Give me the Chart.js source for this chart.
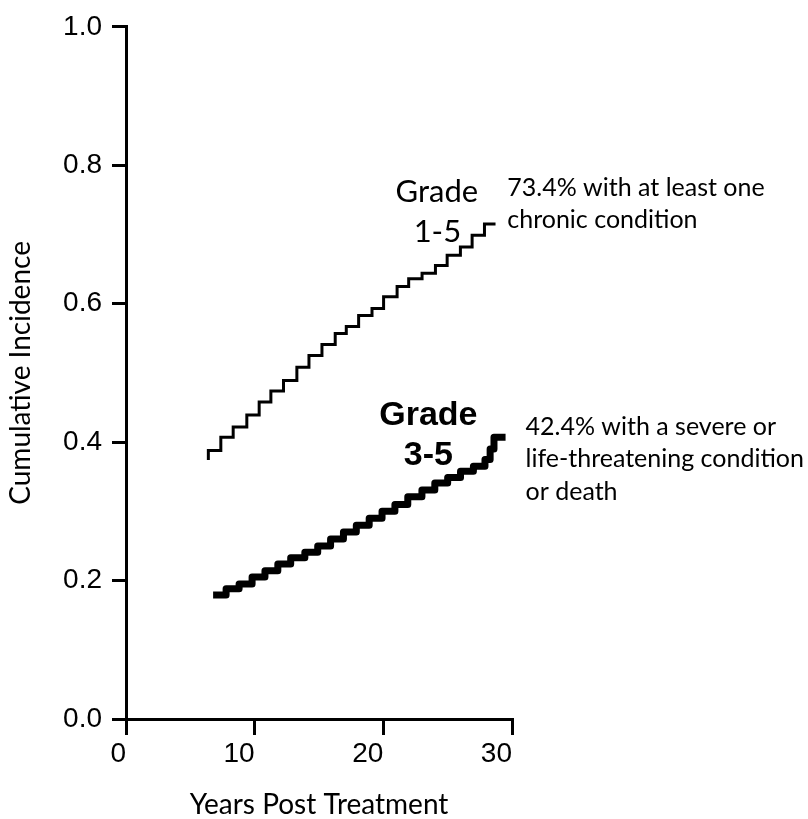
<!DOCTYPE html>
<html>
<head>
<meta charset="utf-8">
<script src="https://cdn.jsdelivr.net/npm/chart.js@4.4.0/dist/chart.umd.min.js"></script>
<style>
  html, body { margin: 0; padding: 0; background: #fff; }
  #wrap { width: 808px; height: 819px; position: relative; }
</style>
</head>
<body>
<div id="wrap"><canvas id="grafico"></canvas></div>
<script>
// Years post treatment where each step lands, and the cumulative incidence after the step
const grade15Years = [6.4, 6.4, 7.37, 8.33, 9.39, 10.35, 11.26, 12.24, 13.28, 14.22, 15.23, 16.26, 17.12, 18.08, 19.12, 20.02, 21.07, 21.97, 23.01, 24.05, 24.96, 25.99, 26.9, 27.86, 28.72];
const grade15Values = [0.374, 0.388, 0.407, 0.422, 0.439, 0.458, 0.474, 0.489, 0.508, 0.525, 0.541, 0.557, 0.567, 0.583, 0.593, 0.61, 0.625, 0.636, 0.644, 0.655, 0.67, 0.682, 0.699, 0.715, 0.715];

const grade35Years = [6.77, 7.78, 8.79, 9.8, 10.8, 11.8, 12.8, 13.9, 14.9, 15.9, 16.9, 17.9, 18.9, 19.9, 20.9, 21.9, 23.0, 24.0, 25.0, 26.0, 27.0, 27.9, 28.3, 28.6, 29.5];
const grade35Values = [0.179, 0.188, 0.195, 0.205, 0.214, 0.224, 0.233, 0.241, 0.25, 0.26, 0.27, 0.28, 0.29, 0.3, 0.31, 0.321, 0.331, 0.341, 0.349, 0.358, 0.365, 0.375, 0.39, 0.407, 0.407];

const xTicks = [0, 10, 20, 30];
const yTicks = [0, 0.2, 0.4, 0.6, 0.8, 1.0];

const toPoints = (xs, ys) => xs.map((x, i) => ({ x: x, y: ys[i] }));

// Text notes placed in data units (x = years, y = incidence at the baseline)
const notes = [
  { x: 24.16, y: 0.747, text: 'Grade', font: '31px Lato', align: 'center' },
  { x: 24.2, y: 0.689, text: '1-5', font: '31px Lato', align: 'center' },
  { x: 29.63, y: 0.756, text: '73.4% with at least one', font: '25px Lato', align: 'left' },
  { x: 29.63, y: 0.71, text: 'chronic condition', font: '25px Lato', align: 'left' },
  { x: 23.5, y: 0.4245, text: 'Grade', font: 'bold 34px "Liberation Sans", Arial', align: 'center' },
  { x: 23.5, y: 0.3667, text: '3-5', font: 'bold 34px "Liberation Sans", Arial', align: 'center' },
  { x: 31.05, y: 0.41, text: '42.4% with a severe or', font: '25px Lato', align: 'left' },
  { x: 31.05, y: 0.364, text: 'life-threatening condition', font: '25px Lato', align: 'left' },
  { x: 31.05, y: 0.3166, text: 'or death', font: '25px Lato', align: 'left' }
];

const notesPlugin = {
  id: 'notes',
  afterDatasetsDraw(chart) {
    const ctx = chart.ctx;
    const sx = chart.scales.x, sy = chart.scales.y;
    ctx.save();
    ctx.fillStyle = '#000';
    ctx.textBaseline = 'alphabetic';
    notes.forEach(n => {
      ctx.font = n.font;
      ctx.textAlign = n.align;
      ctx.fillText(n.text, sx.getPixelForValue(n.x), sy.getPixelForValue(n.y));
    });
    ctx.restore();
  }
};

Chart.defaults.color = '#000';

const tickFont = { family: '"Liberation Sans", Arial, sans-serif', size: 28 };
const titleFont = { family: 'Lato, sans-serif', size: 28, lineHeight: 1 };

new Chart(document.getElementById('grafico'), {
  type: 'line',
  data: {
    datasets: [
      {
        label: 'Grade 1-5',
        data: toPoints(grade15Years, grade15Values),
        borderColor: '#000',
        borderWidth: 3,
        stepped: 'before',
        pointRadius: 0,
        fill: false,
        borderJoinStyle: 'miter',
        borderCapStyle: 'butt'
      },
      {
        label: 'Grade 3-5',
        data: toPoints(grade35Years, grade35Values),
        borderColor: '#000',
        borderWidth: 7,
        stepped: 'before',
        pointRadius: 0,
        fill: false,
        borderJoinStyle: 'round',
        borderCapStyle: 'butt'
      }
    ]
  },
  options: {
    responsive: true,
    maintainAspectRatio: false,
    animation: false,
    layout: { padding: { top: 26, right: 296, bottom: 0, left: 0 } },
    plugins: { legend: { display: false }, tooltip: { enabled: false } },
    scales: {
      x: {
        type: 'linear',
        min: 0,
        max: 30,
        afterBuildTicks: s => { s.ticks = xTicks.map(v => ({ value: v })); },
        afterFit: s => { s.height = 100; },
        grid: { drawOnChartArea: false, drawTicks: true, tickLength: 16, color: '#000', lineWidth: 3 },
        border: { display: true, color: '#000', width: 3 },
        ticks: { font: tickFont, color: '#000', padding: 2, align: 'end', maxRotation: 0, autoSkip: false },
        title: { display: true, text: 'Years Post Treatment', font: titleFont, color: '#000', padding: { top: 0, bottom: 0 } }
      },
      y: {
        min: 0,
        max: 1,
        afterBuildTicks: s => { s.ticks = yTicks.map(v => ({ value: v })); },
        afterFit: s => { s.width = 126; },
        grid: { drawOnChartArea: false, drawTicks: true, tickLength: 14, color: '#000', lineWidth: 3 },
        border: { display: true, color: '#000', width: 3 },
        ticks: { font: tickFont, color: '#000', padding: 10, callback: v => v.toFixed(1) },
        title: { display: true, text: 'Cumulative Incidence', font: titleFont, color: '#000', padding: { top: 7, bottom: 0 } }
      }
    }
  },
  plugins: [notesPlugin]
});
</script>
</body>
</html>
